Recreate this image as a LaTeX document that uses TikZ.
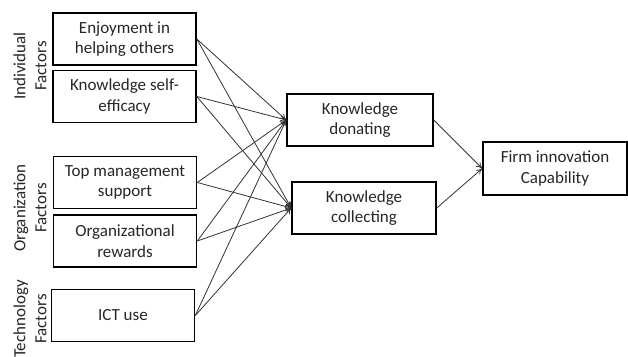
\documentclass[tikz,border=0pt]{standalone}
\usepackage{fontspec}
\setmainfont{Carlito}
\usetikzlibrary{arrows.meta}
\begin{document}
\begin{tikzpicture}[x=1pt,y=-1pt,
  box/.style={draw=black,line width=1.6pt,rectangle,minimum width=143pt,minimum height=52pt,inner sep=0pt,align=center,font=\fontsize{17}{20.5}\selectfont,text=black!85},
  grp/.style={rotate=90,align=center,inner sep=0pt,font=\fontsize{17}{21}\selectfont,text=black!85},
  conn/.style={draw=black!80,line width=0.8pt,-{To[length=6pt,width=6pt]}}]
\useasboundingbox (0,0) rectangle (628,356);
\node[box] (b1) at (124.5,39) {Enjoyment in\\helping others};
\node[box] (b2) at (124.5,96.5) {Knowledge self-\\efficacy};
\node[box] (b3) at (125,182.5) {Top management\\support};
\node[box] (b4) at (125,241) {Organizational\\rewards};
\node[box] (b5) at (123,315.5) {ICT use};
\node[box,minimum width=146pt] (kd) at (360,120) {Knowledge\\donating};
\node[box,minimum width=144pt] (kc) at (364,208) {Knowledge\\collecting};
\node[box,minimum width=144pt,minimum height=53pt] (fi) at (555,168.5) {Firm innovation\\Capability};
\node[grp] (g1) at (30,66) {Individual\\Factors};
\node[grp] (g2) at (30,208) {Organization\\Factors};
\node[grp] (g3) at (30,319) {Technology\\Factors};
\foreach \s in {b1,b2,b3,b4,b5}{
  \draw[conn] (\s.east) -- (kd.west);
  \draw[conn] (\s.east) -- (kc.west);
}
\draw[conn] (kd.east) -- (fi.west);
\draw[conn] (kc.east) -- (fi.west);
\end{tikzpicture}
\end{document}
